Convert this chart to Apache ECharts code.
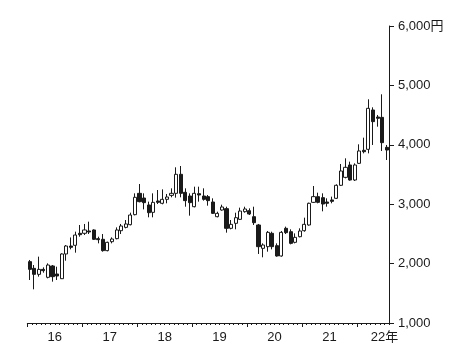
<!DOCTYPE html>
<html>
<head>
<meta charset="utf-8">
<script src="https://cdn.jsdelivr.net/npm/echarts@6/dist/echarts.min.js"></script>
<style>
html,body{margin:0;padding:0;background:#fff;}
#chart{width:467px;height:362px;}
</style>
</head>
<body>
<div id="chart"></div>
<script>
// Monthly candles, Jan 2016 - Jul 2022: [open, close, low, high]
const months = [];
for (let y = 2016; y <= 2022; y++) {
  for (let m = 1; m <= 12; m++) {
    if (y === 2022 && m > 7) break;
    months.push(y + '-' + (m < 10 ? '0' + m : m));
  }
}
const opens  = [2033,1920,1819,1903,1769,1960,1825,1746,2162,2296,2308,2510,2510,2549,2566,2420,2409,2218,2369,2420,2554,2610,2655,2824,3183,3104,2987,2863,3054,3015,3082,3149,3183,3503,3200,3138,2958,3177,3138,3127,3037,2790,2902,2925,2594,2678,2745,2874,2891,2790,2650,2257,2285,2510,2302,2128,2594,2537,2358,2453,2554,2650,3031,3127,3110,3037,3071,3099,3318,3452,3660,3407,3688,3907,3924,4586,4468,4462,3957];
const closes = [1903,1819,1903,1881,1976,1780,1791,2162,2296,2274,2481,2487,2566,2532,2409,2403,2218,2358,2414,2566,2633,2667,2818,3116,3043,3026,2857,3031,3031,3082,3121,3183,3503,3183,3060,3026,3183,3155,3082,3060,2846,2846,2953,2594,2661,2773,2885,2919,2835,2689,2285,2313,2526,2285,2128,2526,2521,2341,2442,2549,2661,3015,3127,3031,3003,3015,3048,3318,3559,3621,3407,3660,3896,3884,4614,4390,4446,4036,3912];
const lows   = [1724,1567,1780,1847,1752,1696,1724,1741,2049,2240,2184,2453,2481,2498,2397,2341,2201,2207,2341,2409,2498,2594,2644,2812,3031,2913,2779,2779,3003,2998,3015,3116,3110,3116,2958,2807,2947,3043,3060,2975,2835,2779,2891,2521,2577,2577,2734,2857,2818,2650,2162,2106,2201,2240,2117,2117,2498,2324,2341,2442,2537,2639,3020,3015,2880,2958,3015,3088,3306,3435,3396,3391,3677,3856,3856,3997,4305,3896,3744];
const highs  = [2061,1976,2117,1937,2004,1976,1948,2173,2313,2440,2538,2650,2667,2706,2577,2453,2498,2369,2442,2610,2667,2734,2857,3183,3340,3183,3043,3183,3239,3250,3172,3267,3621,3643,3267,3183,3295,3295,3267,3155,3099,2874,2992,2958,2734,2857,2942,2958,2930,2958,2667,2341,2549,2537,2341,2549,2622,2577,2509,2594,2773,3026,3306,3194,3183,3099,3127,3335,3677,3772,3716,3688,4008,4120,4766,4631,4502,4850,3997];
const yearLabels = ['16','17','18','19','20','21','22年'];
const yTicks = [1000,2000,3000,4000,5000,6000];

const candles = months.map((m, i) => [opens[i], closes[i], lows[i], highs[i]]);
const yearStarts = yearLabels.map((_, k) => k * 12);
const yearMids = yearLabels.map((_, k) => k * 12 + 6);
const N = months.length;

const font = "'Liberation Sans', Arial, 'Noto Sans CJK JP', sans-serif";
const ink = '#1a1a1a';

const chart = echarts.init(document.getElementById('chart'), null, {renderer: 'canvas'});
chart.setOption({
  animation: false,
  backgroundColor: '#fff',
  grid: {left: 27.3, right: 78, top: 26, bottom: 39, containLabel: false},
  xAxis: [
    {type: 'category', data: months, boundaryGap: true, show: false},
    {type: 'value', min: 0, max: N, interval: 1, position: 'bottom',
     axisLine: {show: true, onZero: false, lineStyle: {color: ink, width: 1}},
     axisTick: {show: true, length: 2, lineStyle: {color: ink, width: 1}},
     axisLabel: {show: false}, splitLine: {show: false}},
    {type: 'value', min: 0, max: N, position: 'bottom',
     axisLine: {show: false, onZero: false},
     axisTick: {show: true, length: 4, customValues: yearStarts, lineStyle: {color: ink, width: 1}},
     axisLabel: {show: true, customValues: yearMids, margin: 8, color: ink, fontSize: 13, fontFamily: font,
       formatter: v => yearLabels[Math.round((v - 6) / 12)]},
     splitLine: {show: false}}
  ],
  yAxis: {
    type: 'value', position: 'right', min: 1000, max: 6000, interval: 1000,
    axisLine: {show: true, onZero: false, lineStyle: {color: ink, width: 1}},
    axisTick: {show: true, length: 5, lineStyle: {color: ink, width: 1}},
    splitLine: {show: false},
    axisLabel: {margin: 9, color: ink, fontSize: 13, fontFamily: font, showMinLabel: true, showMaxLabel: true,
      formatter: v => {
        const s = String(v).replace(/\B(?=(\d{3})+(?!\d))/g, ',');
        return v === yTicks[yTicks.length - 1] ? s + '円' : s;
      }}
  },
  series: [{
    type: 'candlestick',
    xAxisIndex: 0,
    data: candles,
    barWidth: 3.6,
    itemStyle: {color: '#ffffff', color0: ink, borderColor: ink, borderColor0: ink, borderWidth: 1}
  }]
});
</script>
</body>
</html>
